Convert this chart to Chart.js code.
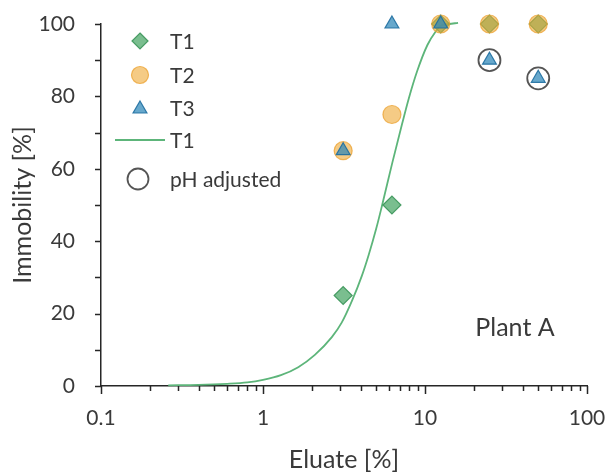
<!DOCTYPE html>
<html>
<head>
<meta charset="utf-8">
<script src="https://cdn.jsdelivr.net/npm/chart.js@4/dist/chart.umd.min.js"></script>
<style>
  html, body { margin: 0; padding: 0; background: #ffffff; }
  canvas { display: block; }
</style>
</head>
<body>
<canvas id="c" width="607" height="475"></canvas>
<script>
// ---- data ----
const doses = [3.125, 6.25, 12.5, 25, 50];
const t1Values = [25, 50, 100, 100, 100];
const t2Values = [65, 75, 100, 100, 100];
const t3Values = [65, 100, 100, 90, 85];
const phAdjustedDoses = [25, 50];
const phAdjustedValues = [90, 85];
const fitDoses = [0.26, 0.4, 0.6, 0.8, 1.0, 1.29, 1.65, 2.09, 2.66, 3.06, 3.54, 4.08, 4.49, 5.0, 5.44, 6.27, 7.23, 7.95, 8.95, 10.35, 11.67, 12.5, 14, 16];
const fitValues = [0.2, 0.3, 0.6, 1.0, 1.7, 3.0, 5.2, 8.6, 13.5, 17.5, 23.5, 30.5, 36.2, 43.5, 50, 61.5, 72.5, 79.5, 87, 94.2, 98, 99.5, 100, 100.3];
const xTickValues = [0.1,0.2,0.3,0.4,0.5,0.6,0.7,0.8,0.9,1,2,3,4,5,6,7,8,9,10,20,30,40,50,60,70,80,90,100];
const xTickLabels = ['0.1', '1', '10', '100'];
const yTickValues = [0,10,20,30,40,50,60,70,80,90,100];
const yTickLabels = ['0', '20', '40', '60', '80', '100'];
const legendLabels = ['T1', 'T2', 'T3', 'T1', 'pH adjusted'];
const annotationText = 'Plant A';

const pts = (xs, ys) => xs.map((x, i) => ({x: x, y: ys[i]}));

const FONT = 'Lato, "Open Sans", sans-serif';
const TEXT = '#3a3a3a';
const AXIS = '#262626';

const STY = {
  t1: {fill: 'rgba(70,165,100,0.72)', stroke: 'rgba(60,150,90,0.9)'},
  t2: {fill: 'rgba(238,168,52,0.6)', stroke: 'rgba(235,160,45,0.75)'},
  t3: {fill: 'rgba(45,135,185,0.72)', stroke: 'rgba(30,110,160,0.9)'},
  ph: {stroke: '#555555'},
  fit: '#5db57a'
};

const tickPlugin = {
  id: 'tickMarks',
  afterDraw(chart) {
    const ctx = chart.ctx;
    const xs = chart.scales.x, ys = chart.scales.y;
    ctx.save();
    ctx.strokeStyle = AXIS;
    ctx.lineWidth = 1.5;
    ctx.beginPath();
    xTickValues.forEach(v => {
      const px = Math.round(xs.getPixelForValue(v)) + 0.5;
      const major = Math.abs(Math.log10(v) - Math.round(Math.log10(v))) < 1e-9;
      ctx.moveTo(px, ys.bottom);
      ctx.lineTo(px, ys.bottom + (major ? 8 : 5));
    });
    yTickValues.forEach(v => {
      const py = Math.round(ys.getPixelForValue(v)) + 0.5;
      ctx.moveTo(xs.left, py);
      ctx.lineTo(xs.left - 6, py);
    });
    ctx.stroke();
    ctx.restore();
  }
};

function drawShape(ctx, kind, x, y, r, fill, stroke, lw) {
  ctx.beginPath();
  if (kind === 'diamond') {
    ctx.moveTo(x, y - r); ctx.lineTo(x + r, y); ctx.lineTo(x, y + r); ctx.lineTo(x - r, y); ctx.closePath();
  } else if (kind === 'circle') {
    ctx.arc(x, y, r, 0, Math.PI * 2);
  } else if (kind === 'triangle') {
    const h = r * 1.5, s = r * Math.sqrt(3) / 2;
    ctx.moveTo(x, y - r); ctx.lineTo(x + s, y - r + h); ctx.lineTo(x - s, y - r + h); ctx.closePath();
  }
  if (fill) { ctx.fillStyle = fill; ctx.fill(); }
  if (stroke) { ctx.strokeStyle = stroke; ctx.lineWidth = lw; ctx.stroke(); }
}

const legendPlugin = {
  id: 'customLegend',
  afterDraw(chart) {
    const ctx = chart.ctx;
    const a = chart.chartArea;
    const sx = a.left + 39, tx = a.left + 69;
    const rows = [a.top + 17, a.top + 51, a.top + 84, a.top + 116, a.top + 155];
    ctx.save();
    drawShape(ctx, 'diamond', sx, rows[0], 8, STY.t1.fill, STY.t1.stroke, 1.2);
    drawShape(ctx, 'circle', sx, rows[1], 8.5, STY.t2.fill, STY.t2.stroke, 1.2);
    drawShape(ctx, 'triangle', sx, rows[2] + 1, 8, STY.t3.fill, STY.t3.stroke, 1.2);
    ctx.beginPath();
    ctx.moveTo(a.left + 14, rows[3]); ctx.lineTo(a.left + 64, rows[3]);
    ctx.strokeStyle = STY.fit; ctx.lineWidth = 1.8; ctx.stroke();
    drawShape(ctx, 'circle', sx - 2, rows[4], 10.5, null, STY.ph.stroke, 1.8);
    ctx.fillStyle = TEXT;
    ctx.font = '21px ' + FONT;
    ctx.textBaseline = 'middle';
    ctx.textAlign = 'left';
    legendLabels.forEach((t, i) => ctx.fillText(t, tx, rows[i] + 1));
    ctx.font = '25px ' + FONT;
    ctx.textAlign = 'center';
    ctx.fillText(annotationText, a.right - 72, a.top + 304);
    ctx.restore();
  }
};

function zeroPad(s) { s.paddingTop = 0; s.paddingBottom = 0; s.paddingLeft = 0; s.paddingRight = 0; }

new Chart(document.getElementById('c'), {
  type: 'scatter',
  data: {
    datasets: [
      {label: 'pH adjusted', data: pts(phAdjustedDoses, phAdjustedValues), pointStyle: 'circle', pointRadius: 11,
       backgroundColor: 'rgba(0,0,0,0)', borderColor: STY.ph.stroke, pointBorderWidth: 1.8, borderWidth: 1.8, order: 0, clip: false},
      {label: 'T3', data: pts(doses, t3Values), pointStyle: 'triangle', pointRadius: 8,
       backgroundColor: STY.t3.fill, borderColor: STY.t3.stroke, borderWidth: 1.2, order: 1, clip: false},
      {label: 'T2', data: pts(doses, t2Values), pointStyle: 'circle', pointRadius: 9,
       backgroundColor: STY.t2.fill, borderColor: STY.t2.stroke, borderWidth: 1.2, order: 2, clip: false},
      {label: 'T1', data: pts(doses, t1Values), pointStyle: 'rectRot', pointRadius: 9,
       backgroundColor: STY.t1.fill, borderColor: STY.t1.stroke, borderWidth: 1.2, order: 3, clip: false},
      {label: 'T1 fit', data: pts(fitDoses, fitValues), showLine: true, pointRadius: 0,
       borderColor: STY.fit, borderWidth: 1.8, tension: 0.4, cubicInterpolationMode: 'monotone', order: 4, clip: false}
    ]
  },
  options: {
    responsive: false,
    animation: false,
    layout: {padding: {left: 0, right: 20, top: 24, bottom: 0}},
    plugins: {legend: {display: false}, tooltip: {enabled: false}},
    scales: {
      x: {
        type: 'logarithmic', min: 0.1, max: 100,
        afterBuildTicks(s) { s.ticks = xTickValues.map(v => ({value: v})); },
        afterFit(s) { s.height = 89; zeroPad(s); },
        ticks: {
          autoSkip: false, maxRotation: 0, padding: 12, color: TEXT,
          font: {family: FONT, size: 21},
          callback(v) { const l = String(+v.toPrecision(3)); return xTickLabels.includes(l) ? l : ''; }
        },
        grid: {display: false},
        border: {display: true, color: AXIS, width: 1.5},
        title: {display: true, text: 'Eluate [%]', color: TEXT, font: {family: FONT, size: 25}, padding: {top: 0, bottom: 0}}
      },
      y: {
        min: 0, max: 100,
        afterBuildTicks(s) { s.ticks = yTickValues.map(v => ({value: v})); },
        afterFit(s) { s.width = 101; zeroPad(s); },
        ticks: {
          padding: 18, color: TEXT, font: {family: FONT, size: 21},
          callback(v) { return yTickLabels.includes(String(v)) ? String(v) : ''; }
        },
        grid: {display: false},
        border: {display: true, color: AXIS, width: 1.5},
        title: {display: true, text: 'Immobility [%]', color: TEXT, font: {family: FONT, size: 25}, padding: {top: 8, bottom: 0}}
      }
    }
  },
  plugins: [tickPlugin, legendPlugin]
});
</script>
</body>
</html>
